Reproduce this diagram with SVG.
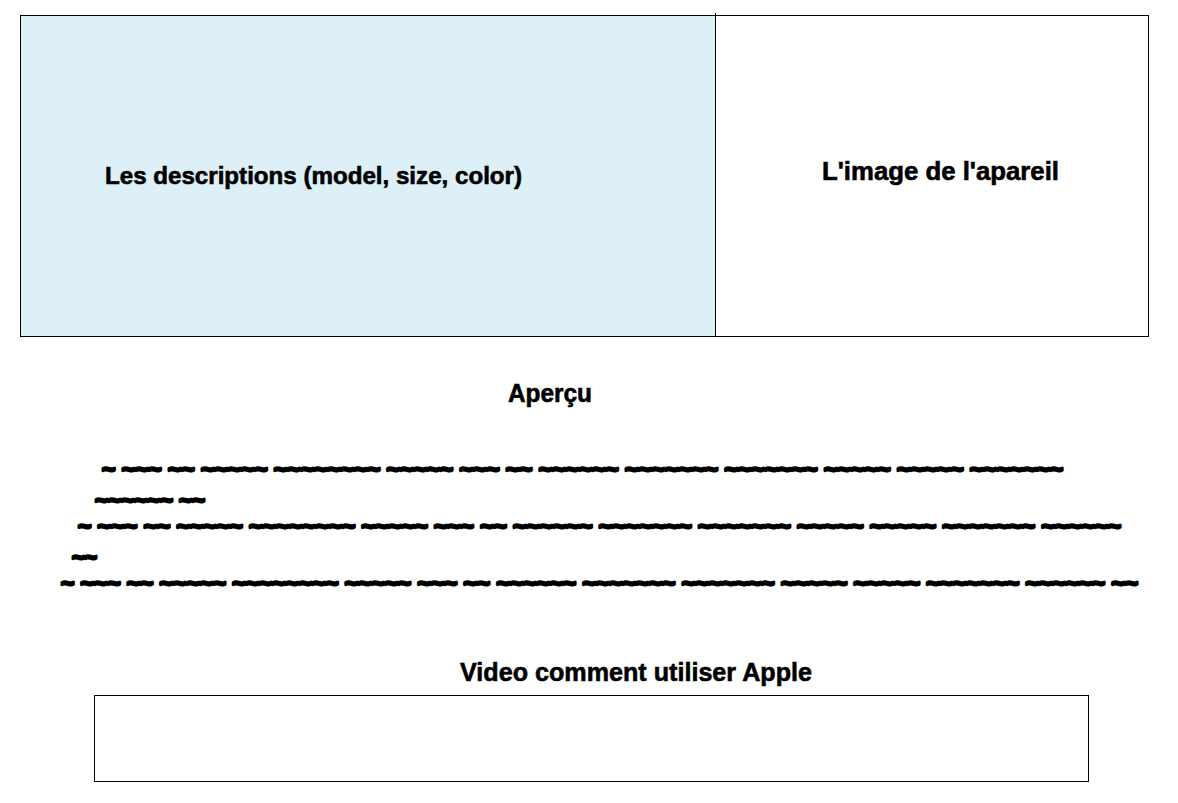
<svg xmlns="http://www.w3.org/2000/svg" width="1178" height="803" viewBox="0 0 1178 803">
<style>
.box{stroke:#000;stroke-width:1}
.lbl{font-family:"Liberation Sans",Arial,sans-serif;font-weight:bold;fill:#000;stroke:#000;stroke-width:0.6}
.tl{font-family:"Liberation Sans",Arial,sans-serif;font-weight:bold;font-size:22px;fill:#000;stroke:#000;stroke-width:2.8;stroke-linejoin:round}
</style>
<rect width="1178" height="803" fill="#fff"/>
<g id="descriptions">
<rect class="box" x="20.5" y="15.5" width="695" height="321" fill="#DDEFF7"/>
<text class="lbl" x="105" y="184" font-size="24" textLength="417" lengthAdjust="spacingAndGlyphs">Les descriptions (model, size, color)</text>
</g>
<g id="image">
<rect class="box" x="715.5" y="15.5" width="433" height="321" fill="#fff"/>
<line class="box" x1="715.5" y1="13" x2="715.5" y2="337"/>
<text class="lbl" x="822" y="180" font-size="25" textLength="237" lengthAdjust="spacingAndGlyphs">L'image de l'apareil</text>
</g>
<g id="apercu">
<text class="lbl" x="508" y="402" font-size="25" textLength="84" lengthAdjust="spacingAndGlyphs">Aperçu</text>
<text class="tl" x="102" y="477" textLength="961" lengthAdjust="spacingAndGlyphs">~ ~~~ ~~ ~~~~~ ~~~~~~~~ ~~~~~ ~~~ ~~ ~~~~~~ ~~~~~~~ ~~~~~~~ ~~~~~ ~~~~~ ~~~~~~~</text>
<text class="tl" x="95" y="508" textLength="110" lengthAdjust="spacingAndGlyphs">~~~~~~ ~~</text>
<text class="tl" x="78" y="534" textLength="1043" lengthAdjust="spacingAndGlyphs">~ ~~~ ~~ ~~~~~ ~~~~~~~~ ~~~~~ ~~~ ~~ ~~~~~~ ~~~~~~~ ~~~~~~~ ~~~~~ ~~~~~ ~~~~~~~ ~~~~~~</text>
<text class="tl" x="72" y="565" textLength="25" lengthAdjust="spacingAndGlyphs">~~</text>
<text class="tl" x="61" y="591" textLength="1077" lengthAdjust="spacingAndGlyphs">~ ~~~ ~~ ~~~~~ ~~~~~~~~ ~~~~~ ~~~ ~~ ~~~~~~ ~~~~~~~ ~~~~~~~ ~~~~~ ~~~~~ ~~~~~~~ ~~~~~~ ~~</text>
</g>
<g id="video">
<text class="lbl" x="460" y="681" font-size="26" textLength="352" lengthAdjust="spacingAndGlyphs">Video comment utiliser Apple</text>
<rect class="box" x="94.5" y="695.5" width="994" height="86" fill="#fff"/>
</g>
<g id="connectors"></g>
</svg>
